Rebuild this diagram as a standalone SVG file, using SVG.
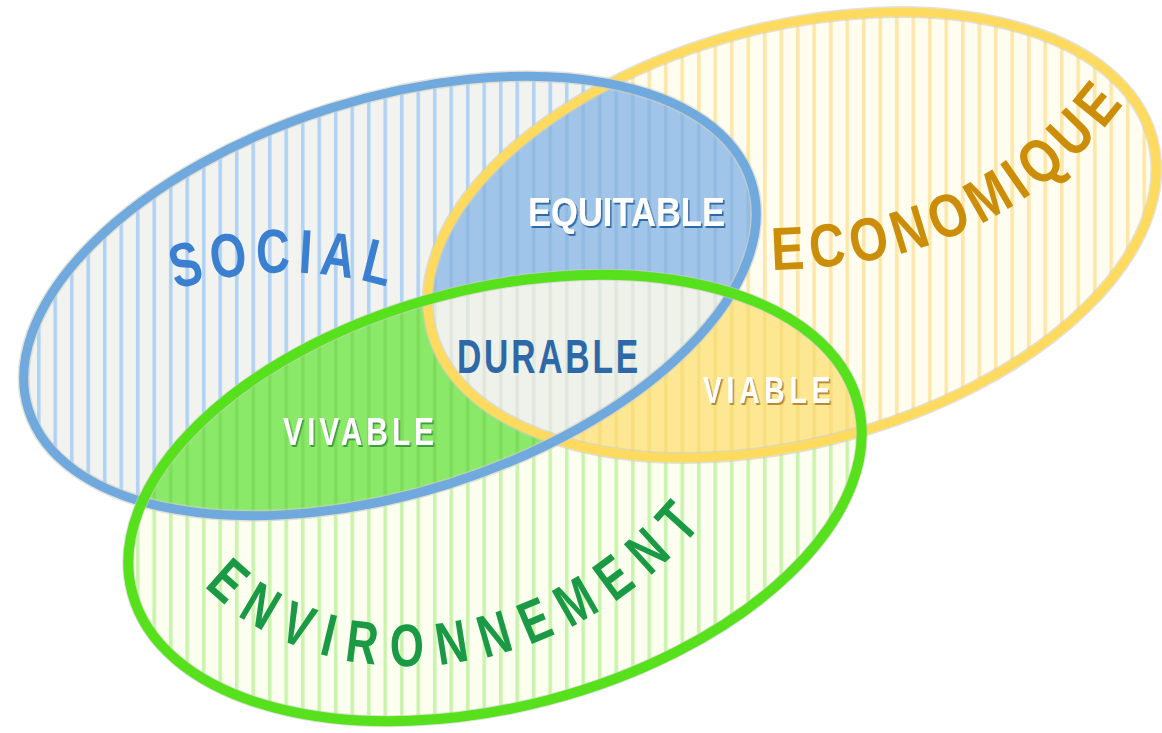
<svg xmlns="http://www.w3.org/2000/svg" width="1162" height="733" viewBox="0 0 1162 733">
<style>
.lbl{font-family:"Liberation Sans",Arial,sans-serif;font-weight:bold;}
.halo{fill:none;stroke:#cfcfc6;stroke-width:12;opacity:0.6;}
</style>
<defs>
<ellipse id="eB" cx="390" cy="296" rx="379" ry="197" transform="rotate(-17.5 390 296)"/>
<ellipse id="eY" cx="792" cy="235" rx="373" ry="208" transform="rotate(-15 792 235)"/>
<ellipse id="eG" cx="495" cy="498" rx="375" ry="209" transform="rotate(-14.6 495 498)"/>
<pattern id="pB" patternUnits="userSpaceOnUse" width="16.5" height="20"><rect width="16.5" height="20" fill="#f2f3ee"/><rect x="4" width="3.5" height="20" fill="#afd1f4"/></pattern>
<pattern id="pY" patternUnits="userSpaceOnUse" width="16.5" height="20"><rect width="16.5" height="20" fill="#fffdef"/><rect x="4" width="3.5" height="20" fill="#fde6a6"/></pattern>
<pattern id="pG" patternUnits="userSpaceOnUse" width="16.5" height="20"><rect width="16.5" height="20" fill="#fcfeef"/><rect x="4" width="3.5" height="20" fill="#c9f3ac"/></pattern>
<pattern id="pBY" patternUnits="userSpaceOnUse" width="16.5" height="20"><rect width="16.5" height="20" fill="#a0c5e8"/><rect x="4" width="3.5" height="20" fill="#92bbe2"/></pattern>
<pattern id="pYG" patternUnits="userSpaceOnUse" width="16.5" height="20"><rect width="16.5" height="20" fill="#fde793"/><rect x="4" width="3.5" height="20" fill="#f8de7c"/></pattern>
<pattern id="pBG" patternUnits="userSpaceOnUse" width="16.5" height="20"><rect width="16.5" height="20" fill="#8ae968"/><rect x="4" width="3.5" height="20" fill="#7ddd5a"/></pattern>
<pattern id="pBYG" patternUnits="userSpaceOnUse" width="16.5" height="20"><rect width="16.5" height="20" fill="#eff2ea"/><rect x="4" width="3.5" height="20" fill="#e0e7dc"/></pattern>
<clipPath id="cB"><use href="#eB"/></clipPath>
<clipPath id="cY"><use href="#eY"/></clipPath>
<clipPath id="cG"><use href="#eG"/></clipPath>
<filter id="shB" x="-10%" y="-30%" width="120%" height="160%"><feDropShadow dx="1.5" dy="2" stdDeviation="0.6" flood-color="#2f6aa6"/></filter>
<filter id="shY" x="-10%" y="-30%" width="120%" height="160%"><feDropShadow dx="1.5" dy="2" stdDeviation="0.6" flood-color="#b98b2e"/></filter>
<filter id="shG" x="-10%" y="-30%" width="120%" height="160%"><feDropShadow dx="1.5" dy="2" stdDeviation="0.6" flood-color="#3c9e3a"/></filter>
<path id="tpSocial" d="M 168 292 Q 282 254 398 290"/>
<path id="tpEco" d="M 772 270 C 900 268 1030 230 1128 98"/>
<path id="tpEnv" d="M 198 578 C 300 700 550 710 712 513"/>
</defs>

<g id="fills">
<rect width="1162" height="733" fill="url(#pB)" clip-path="url(#cB)"/>
<rect width="1162" height="733" fill="url(#pY)" clip-path="url(#cY)"/>
<rect width="1162" height="733" fill="url(#pG)" clip-path="url(#cG)"/>
<g clip-path="url(#cB)"><rect width="1162" height="733" fill="url(#pBY)" clip-path="url(#cY)"/></g>
<g clip-path="url(#cB)"><rect width="1162" height="733" fill="url(#pBG)" clip-path="url(#cG)"/></g>
<g clip-path="url(#cY)"><rect width="1162" height="733" fill="url(#pYG)" clip-path="url(#cG)"/></g>
<g clip-path="url(#cB)"><g clip-path="url(#cY)"><rect width="1162" height="733" fill="url(#pBYG)" clip-path="url(#cG)"/></g></g>
</g>

<g id="outlines">
<use href="#eY" class="halo"/>
<use href="#eY" fill="none" stroke="#fedb5e" stroke-width="9"/>
<use href="#eB" class="halo"/>
<use href="#eB" fill="none" stroke="#6fa9dd" stroke-width="9"/>
<use href="#eG" class="halo"/>
<use href="#eG" fill="none" stroke="#56e11c" stroke-width="10"/>
</g>

<g id="social">
<text class="lbl" font-size="62" fill="#3b7fd1" letter-spacing="10"><textPath href="#tpSocial" startOffset="8" textLength="222" lengthAdjust="spacingAndGlyphs">SOCIAL</textPath></text>
</g>
<g id="economique">
<text class="lbl" font-size="61" fill="#cc8e08" letter-spacing="8"><textPath href="#tpEco" startOffset="0" textLength="410" lengthAdjust="spacingAndGlyphs">ECONOMIQUE</textPath></text>
</g>
<g id="environnement">
<text class="lbl" font-size="60" fill="#1a9a45" letter-spacing="20"><textPath href="#tpEnv" startOffset="10" textLength="575" lengthAdjust="spacingAndGlyphs">ENVIRONNEMENT</textPath></text>
</g>
<g id="equitable">
<text class="lbl" x="528" y="226" font-size="40" fill="#ffffff" filter="url(#shB)" textLength="197" lengthAdjust="spacingAndGlyphs">EQUITABLE</text>
</g>
<g id="durable">
<text class="lbl" x="457" y="373" font-size="48" fill="#2d68a8" letter-spacing="4" textLength="184" lengthAdjust="spacingAndGlyphs">DURABLE</text>
</g>
<g id="viable">
<text class="lbl" x="703" y="403" font-size="36" fill="#ffffff" filter="url(#shY)" letter-spacing="6" textLength="132" lengthAdjust="spacingAndGlyphs">VIABLE</text>
</g>
<g id="vivable">
<text class="lbl" x="283" y="445" font-size="38" fill="#ffffff" filter="url(#shG)" letter-spacing="5" textLength="155" lengthAdjust="spacingAndGlyphs">VIVABLE</text>
</g>
</svg>
